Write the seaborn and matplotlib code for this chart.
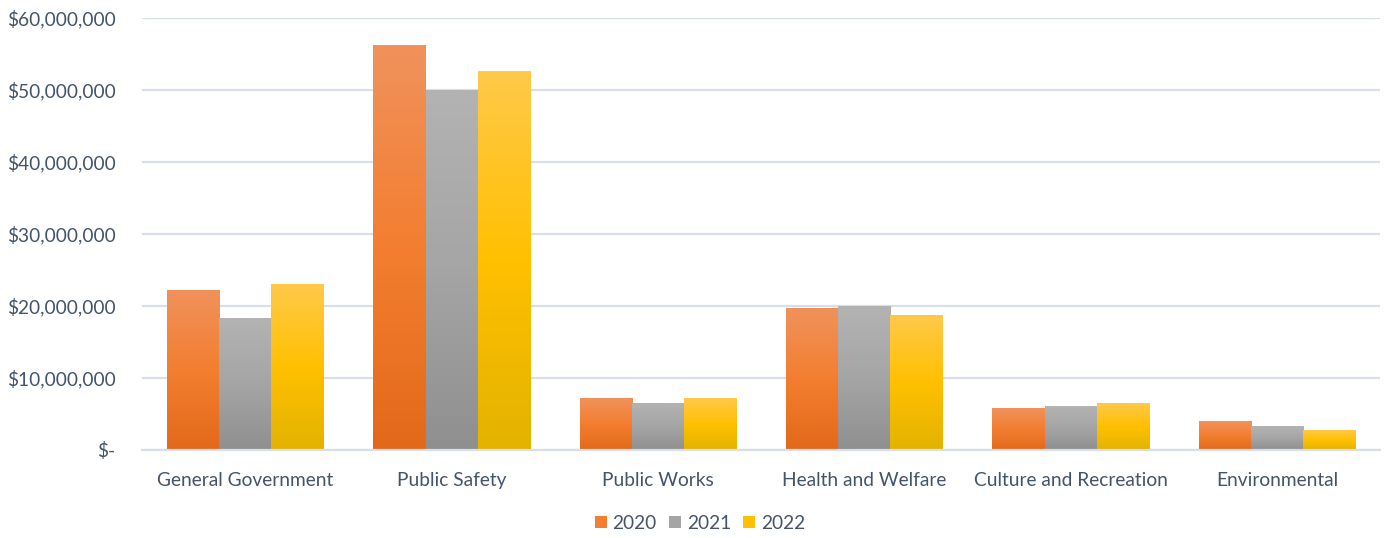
import numpy as np
import pandas as pd
import matplotlib
matplotlib.use("Agg")
import matplotlib.pyplot as plt
import seaborn as sns
from matplotlib.colors import LinearSegmentedColormap
from matplotlib.patches import Patch
from matplotlib.ticker import FuncFormatter, FixedLocator

categories = ["General Government", "Public Safety", "Public Works",
              "Health and Welfare", "Culture and Recreation", "Environmental"]
years = ["2020", "2021", "2022"]
v2020 = [22_100_000, 56_250_000, 7_200_000, 19_600_000, 5_800_000, 3_900_000]
v2021 = [18_200_000, 50_000_000, 6_500_000, 20_000_000, 6_000_000, 3_200_000]
v2022 = [23_050_000, 52_600_000, 7_200_000, 18_750_000, 6_400_000, 2_650_000]

# gradient stops per year: top, middle, bottom
grad = {
    "2020": ["#F0925C", "#F37E30", "#E3691A"],
    "2021": ["#B3B3B3", "#A5A5A5", "#8F8F8F"],
    "2022": ["#FFC94A", "#FFC000", "#E3B300"],
}
text_color = "#44546A"
grid_color = "#D9DEE8"

df = pd.DataFrame({
    "category": categories * 3,
    "year": [y for y in years for _ in categories],
    "value": v2020 + v2021 + v2022,
})

sns.set_style("white")
plt.rcParams["font.family"] = ["Lato", "DejaVu Sans"]

fig = plt.figure(figsize=(13.86, 5.38), dpi=100)
ax = fig.add_axes([0.1025, 0.1636, 0.8932, 0.8029])

sns.barplot(data=df, x="category", y="value", hue="year", order=categories,
            hue_order=years, palette=[grad[y][1] for y in years],
            width=0.757, gap=0, errorbar=None, legend=False, ax=ax)

# replace flat fills with vertical gradients like the original
for year, cont in zip(years, ax.containers):
    cmap = LinearSegmentedColormap.from_list(year, grad[year][::-1])
    g = np.linspace(0, 1, 256).reshape(-1, 1)
    for bar in cont:
        x0, w, h = bar.get_x(), bar.get_width(), bar.get_height()
        bar.set_facecolor("none")
        bar.set_edgecolor("none")
        ax.imshow(g, cmap=cmap, origin="lower", aspect="auto",
                  extent=(x0, x0 + w, 0, h), zorder=2)

ax.set_ylim(0, 60_000_000)
ax.set_xlim(-0.5, len(categories) - 0.5)

ax.yaxis.set_major_locator(FixedLocator(np.arange(0, 60_000_001, 10_000_000)))
ax.yaxis.set_major_formatter(FuncFormatter(lambda v, p: "$-" if v == 0 else f"${v:,.0f}"))
ax.grid(axis="y", color=grid_color, linewidth=1.6)
ax.set_axisbelow(True)
for s in ["top", "right", "left"]:
    ax.spines[s].set_visible(False)
ax.spines["bottom"].set_color(grid_color)
ax.spines["bottom"].set_linewidth(1.6)

ax.set_xticks(range(len(categories)))
ax.set_xticklabels(categories)
ax.set_xticks(np.arange(-0.5, len(categories)), minor=True)
ax.tick_params(axis="x", which="major", length=0, pad=16, labelsize=13.8, labelcolor=text_color)
ax.tick_params(axis="x", which="minor", length=7, width=1.6, color=grid_color)
ax.tick_params(axis="y", length=0, pad=19, labelsize=13.8, labelcolor=text_color)
ax.set_xlabel("")
ax.set_ylabel("")

handles = [Patch(facecolor=grad[y][1], edgecolor="none") for y in years]
fig.legend(handles, years, loc="center", bbox_to_anchor=(0.505, 0.027), ncol=3,
           frameon=False, fontsize=13.8, labelcolor=text_color, handlelength=0.62,
           handleheight=0.62, handletextpad=0.3, columnspacing=0.65)

fig.savefig("out.png", dpi=100)
